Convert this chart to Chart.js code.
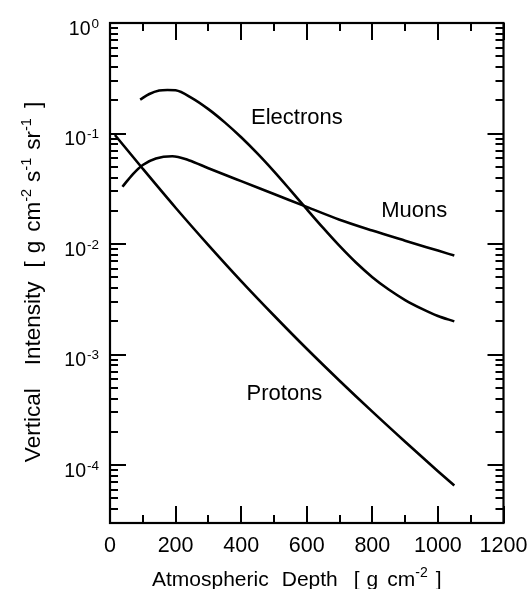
<!DOCTYPE html>
<html>
<head>
<meta charset="utf-8">
<script src="https://cdn.jsdelivr.net/npm/chart.js@4.4.1/dist/chart.umd.min.js"></script>
<style>
html,body{margin:0;padding:0;background:#fff;}
canvas{display:block;}
</style>
</head>
<body>
<canvas id="c" width="530" height="589"></canvas>
<script>
// ---- data ----
const electronDepth = [92, 120, 150, 175, 200, 250, 300, 350, 400, 450, 500, 550, 600, 650, 700, 750, 800, 850, 900, 950, 1000, 1050];
const electronFlux  = [0.203, 0.228, 0.245, 0.248, 0.246, 0.2094, 0.1663, 0.1262, 0.0925, 0.0658, 0.0455, 0.0308, 0.0207, 0.0140, 0.00962, 0.00681, 0.00502, 0.00388, 0.00312, 0.00261, 0.00224, 0.00200];

const muonDepth = [38, 70, 100, 140, 190, 240, 300, 400, 500, 600, 700, 800, 900, 1000, 1050];
const muonFlux  = [0.033, 0.043, 0.052, 0.0595, 0.0623, 0.0574, 0.0486, 0.0371, 0.0284, 0.0217, 0.01663, 0.01327, 0.01074, 0.00873, 0.00787];

const protonDepth = [15, 100, 200, 300, 400, 500, 600, 700, 800, 900, 1000, 1050];
const protonFlux  = [0.0970, 0.0480, 0.02133, 0.00980, 0.00463, 0.00226, 0.00113, 0.000581, 0.000305, 0.000163, 0.0000883, 0.0000655];

const seriesNames = ['Electrons', 'Muons', 'Protons'];
// label anchors in data units (depth, intensity at text baseline)
const labelDepth = [570, 928, 532];
const labelFlux  = [0.1231, 0.01762, 0.000388];

const xTickValues = [0, 200, 400, 600, 800, 1000, 1200];
const yTickExponents = [0, -1, -2, -3, -4];

const xMin = 0, xMax = 1200, yMin = 3e-5, yMax = 1;

function pts(xs, ys){ return xs.map((x,i)=>({x:x, y:ys[i]})); }

// ---- rich text helpers (superscripts) ----
function partsWidth(ctx, parts, f){
  let w = 0;
  for (const p of parts){
    if (p.gap !== undefined){ w += p.gap; continue; }
    ctx.font = p.sup ? f.sup : f.main;
    w += ctx.measureText(p.t).width;
  }
  return w;
}
function drawParts(ctx, parts, x, y, f, raise){
  let cx = x;
  for (const p of parts){
    if (p.gap !== undefined){ cx += p.gap; continue; }
    ctx.font = p.sup ? f.sup : f.main;
    ctx.fillText(p.t, cx, p.sup ? y - raise : y);
    cx += ctx.measureText(p.t).width;
  }
}

const FONT = '"Liberation Sans", Arial, Helvetica, sans-serif';

const xTitleParts = [
  {t:'Atmospheric'},{gap:13},{t:'Depth'},{gap:16},{t:'['},{gap:7},{t:'g'},{gap:9},{t:'cm'},{t:'-2',sup:true},{gap:8},{t:']'}
];
const yTitleParts = [
  {t:'Vertical'},{gap:23},{t:'Intensity'},{gap:14},{t:'['},{gap:8},{t:'g'},{gap:9},{t:'cm'},{t:'-2',sup:true},{gap:7},
  {t:'s'},{t:'-1',sup:true},{gap:8},{t:'sr'},{t:'-1',sup:true},{gap:10},{t:']'}
];

const framePlugin = {
  id: 'frame',
  afterDraw(chart){
    const ctx = chart.ctx, a = chart.chartArea, xs = chart.scales.x, ys = chart.scales.y;
    ctx.save();
    ctx.strokeStyle = '#000';
    ctx.fillStyle = '#000';
    ctx.lineCap = 'butt';
    // frame
    ctx.lineWidth = 2.2;
    ctx.strokeRect(a.left, a.top, a.right - a.left, a.bottom - a.top);
    // x ticks (inward, bottom and top)
    ctx.lineWidth = 2;
    for (let v = xMin; v <= xMax; v += 100){
      const px = Math.round(xs.getPixelForValue(v));
      const len = (v % 200 === 0) ? 17 : 8;
      ctx.beginPath();
      ctx.moveTo(px, a.bottom); ctx.lineTo(px, a.bottom - len);
      ctx.moveTo(px, a.top); ctx.lineTo(px, a.top + len);
      ctx.stroke();
    }
    // y ticks (inward, left and right)
    for (let e = -5; e <= 0; e++){
      for (let m = 1; m <= 9; m++){
        const v = m * Math.pow(10, e);
        if (v < yMin * 0.999 || v > yMax * 1.001) continue;
        const py = Math.round(ys.getPixelForValue(v));
        const len = (m === 1) ? 16 : 8;
        ctx.beginPath();
        ctx.moveTo(a.left, py); ctx.lineTo(a.left + len, py);
        ctx.moveTo(a.right, py); ctx.lineTo(a.right - len, py);
        ctx.stroke();
      }
    }
    // x tick labels
    ctx.textBaseline = 'alphabetic';
    ctx.textAlign = 'center';
    ctx.font = '21.5px ' + FONT;
    for (const v of xTickValues){
      ctx.fillText(String(v), xs.getPixelForValue(v), a.bottom + 28.5);
    }
    // y tick labels 10^n
    ctx.textAlign = 'left';
    const yf = {main: '19.5px ' + FONT, sup: '13.5px ' + FONT};
    for (const ex of yTickExponents){
      const py = ys.getPixelForValue(Math.pow(10, ex));
      const parts = [{t:'10'},{gap:1},{t:String(ex), sup:true}];
      const w = partsWidth(ctx, parts, yf);
      drawParts(ctx, parts, 99 - w, py + 11.5, yf, 7);
    }
    // x axis title
    const xf = {main: '21px ' + FONT, sup: '14px ' + FONT};
    drawParts(ctx, xTitleParts, 152, 585.5, xf, 8.5);
    // y axis title
    const tf = {main: '22.5px ' + FONT, sup: '14.5px ' + FONT};
    const tw = partsWidth(ctx, yTitleParts, tf);
    ctx.save();
    ctx.translate(39.5, 282);
    ctx.rotate(-Math.PI / 2);
    drawParts(ctx, yTitleParts, -tw / 2, 0, tf, 9);
    ctx.restore();
    // curve labels
    ctx.textAlign = 'center';
    ctx.font = '22px ' + FONT;
    for (let i = 0; i < seriesNames.length; i++){
      ctx.fillText(seriesNames[i], xs.getPixelForValue(labelDepth[i]), ys.getPixelForValue(labelFlux[i]));
    }
    ctx.restore();
  }
};

const lineStyle = {
  borderColor: '#000',
  borderWidth: 2.6,
  pointRadius: 0,
  fill: false,
  cubicInterpolationMode: 'monotone'
};

new Chart(document.getElementById('c'), {
  type: 'line',
  data: {
    datasets: [
      Object.assign({label: seriesNames[0], data: pts(electronDepth, electronFlux)}, lineStyle),
      Object.assign({label: seriesNames[1], data: pts(muonDepth, muonFlux)}, lineStyle),
      Object.assign({label: seriesNames[2], data: pts(protonDepth, protonFlux)}, lineStyle)
    ]
  },
  options: {
    responsive: false,
    animation: false,
    devicePixelRatio: 1,
    layout: { padding: { left: 110, right: 26.5, top: 23, bottom: 66 } },
    plugins: { legend: { display: false }, tooltip: { enabled: false } },
    scales: {
      x: { type: 'linear', min: xMin, max: xMax, display: false },
      y: { type: 'logarithmic', min: yMin, max: yMax, display: false }
    }
  },
  plugins: [framePlugin]
});
</script>
</body>
</html>
